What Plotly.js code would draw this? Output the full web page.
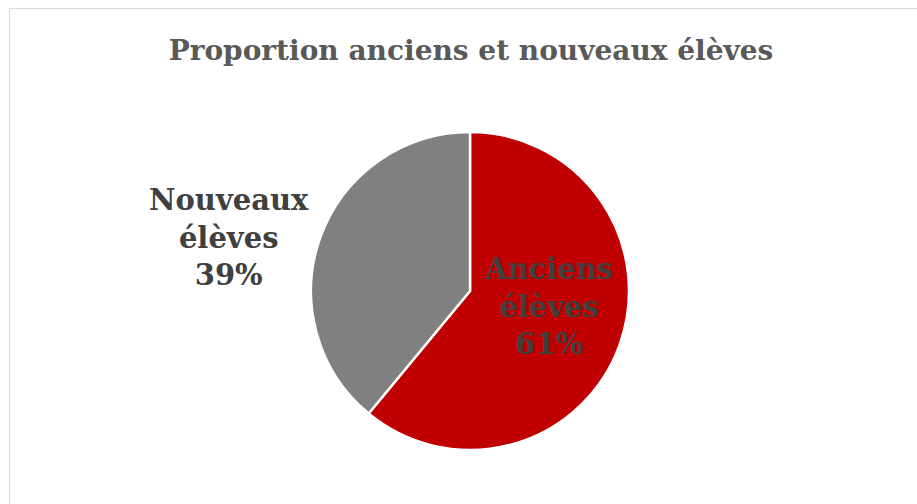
<!DOCTYPE html>
<html>
<head>
<meta charset="utf-8">
<script src="https://cdn.plot.ly/plotly-3.0.1.min.js"></script>
<style>
  html, body { margin: 0; padding: 0; background: #ffffff; overflow: hidden; }
  #chart { width: 917px; height: 504px; position: absolute; left: 0; top: 0; }
  #frame { position: absolute; left: 9px; top: 8px; width: 940px; height: 520px;
           border-left: 1px solid #d9d9d9; border-top: 1px solid #d9d9d9; pointer-events: none; }
</style>
</head>
<body>
<div id="chart"></div>
<div id="frame"></div>
<script>
const categories = ["Anciens élèves", "Nouveaux élèves"];
const values = [61, 39];
const sliceColors = ["#C00000", "#808080"];
const labelLines = [["Anciens", "élèves"], ["Nouveaux", "élèves"]];
const chartTitle = "Proportion anciens et nouveaux élèves";

const total = values.reduce((a, b) => a + b, 0);
const labelPos = [{x: 548 / 917, y: 1 - 306 / 504}, {x: 229 / 917, y: 1 - 237 / 504}];

const annotations = categories.map((c, i) => ({
  text: labelLines[i].join("<br>") + "<br>" + Math.round(values[i] / total * 100) + "%",
  xref: "paper", yref: "paper",
  x: labelPos[i].x, y: labelPos[i].y,
  xanchor: "center", yanchor: "middle",
  align: "center", showarrow: false,
  font: {family: "DejaVu Serif", size: 29, color: "#404040", weight: "bold"}
}));

const data = [{
  type: "pie",
  labels: categories,
  values: values,
  sort: false,
  direction: "clockwise",
  rotation: 0,
  marker: {colors: sliceColors, line: {color: "#ffffff", width: 2.5}},
  textinfo: "none",
  hoverinfo: "label+percent",
  domain: {x: [310 / 917, 630 / 917], y: [(504 - 450) / 504, (504 - 132) / 504]},
  showlegend: false
}];

const layout = {
  width: 917, height: 504,
  margin: {l: 0, r: 0, t: 0, b: 0},
  paper_bgcolor: "rgba(0,0,0,0)",
  plot_bgcolor: "rgba(0,0,0,0)",
  title: {
    text: "<b>" + chartTitle + "</b>",
    x: 471 / 917, xanchor: "center", xref: "container",
    y: 1 - 50 / 504, yanchor: "middle", yref: "container",
    font: {family: "DejaVu Serif", size: 28, color: "#595959"}
  },
  annotations: annotations,
  showlegend: false
};

Plotly.newPlot("chart", data, layout, {displayModeBar: false, staticPlot: true});
</script>
</body>
</html>
